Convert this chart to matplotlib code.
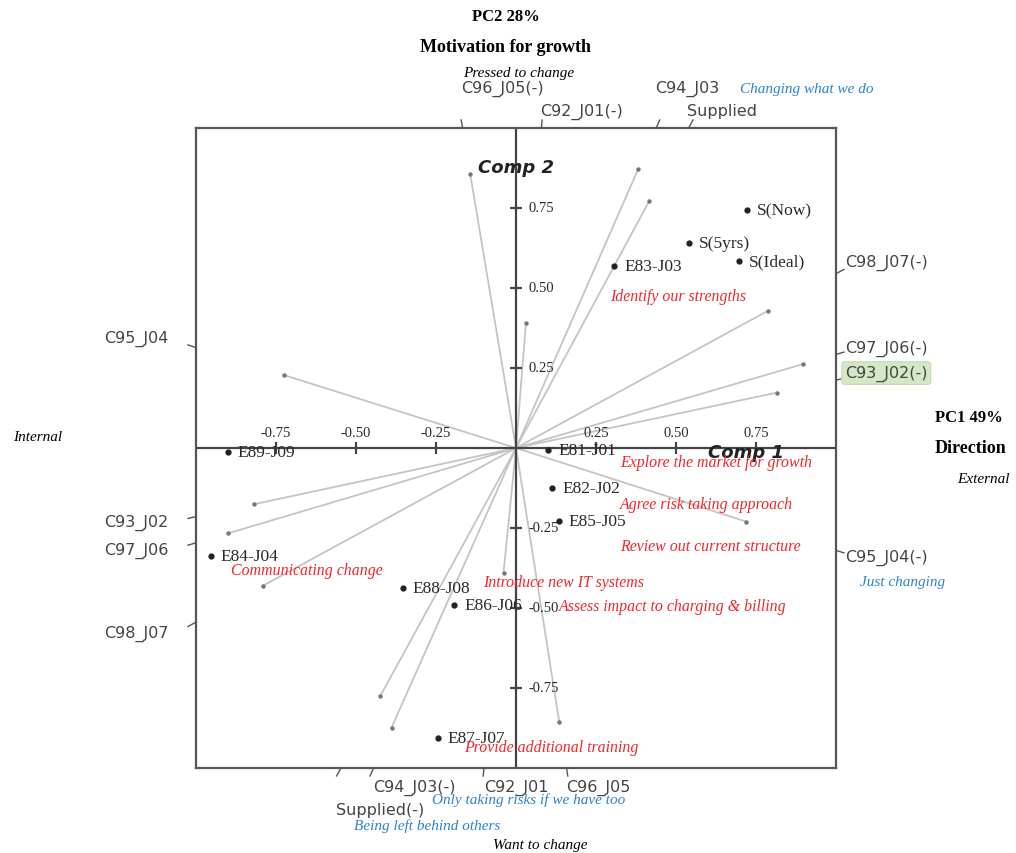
import matplotlib
matplotlib.use("Agg")
import matplotlib.pyplot as plt
import numpy as np

W, H = 1016, 854

# variable loadings: each variable is drawn twice (as is and negated)
var_names = ["C96_J05(-)", "C96_J05",
             "C92_J01(-)", "C92_J01",
             "C94_J03", "C94_J03(-)",
             "Supplied", "Supplied(-)",
             "C98_J07(-)", "C98_J07",
             "C97_J06(-)", "C97_J06",
             "C93_J02(-)", "C93_J02",
             "C95_J04(-)", "C95_J04"]
var_x = [-0.143, 0.135, 0.031, -0.039, 0.382, -0.389, 0.417, -0.424,
         0.786, -0.792, 0.896, -0.901, 0.815, -0.820, 0.719, -0.726]
var_y = [0.856, -0.855, 0.390, -0.390, 0.872, -0.874, 0.773, -0.775,
         0.428, -0.431, 0.262, -0.267, 0.173, -0.176, -0.230, 0.228]

# scores
pt_names = ["S(Now)", "S(5yrs)", "S(Ideal)", "E83-J03", "E81-J01", "E82-J02",
            "E85-J05", "E89-J09", "E84-J04", "E88-J08", "E86-J06", "E87-J07"]
pt_x = [0.721, 0.542, 0.698, 0.307, 0.101, 0.114, 0.133, -0.901, -0.953,
        -0.354, -0.193, -0.245]
pt_y = [0.744, 0.640, 0.584, 0.569, -0.006, -0.126, -0.228, -0.011, -0.336,
        -0.436, -0.490, -0.905]

ticks = [-0.75, -0.50, -0.25, 0.25, 0.50, 0.75]
tick_labels = ["-0.75", "-0.50", "-0.25", "0.25", "0.50", "0.75"]

red_notes = ["Identify our strengths", "Explore the market for growth",
             "Agree risk taking approach", "Review out current structure",
             "Communicating change", "Introduce new IT systems",
             "Assess impact to charging & billing", "Provide additional training"]
blue_notes = ["Changing what we do", "Just changing",
              "Only taking risks if we have too", "Being left behind others"]

RED = "#f2262b"
BLUE = "#2b82d0"
SERIF = "Liberation Serif"

fig = plt.figure(figsize=(W / 100, H / 100), dpi=100)
ax = fig.add_axes([196 / W, 85 / H, 640 / W, 640 / H])
ax.set_xlim(-1, 1)
ax.set_ylim(-1, 1)
ax.set_xticks([])
ax.set_yticks([])
for s in ax.spines.values():
    s.set_color("#555555")
    s.set_linewidth(1.6)

ax.axhline(0, color="#444444", lw=1.6, zorder=2)
ax.axvline(0, color="#444444", lw=1.6, zorder=2)

# axis ticks
ax.plot(ticks, np.zeros(len(ticks)), ls="none", marker="|", ms=9, mew=1.6, color="#444444")
ax.plot(np.zeros(len(ticks)), ticks, ls="none", marker="_", ms=9, mew=1.6, color="#444444")
for t, lab in zip(ticks, tick_labels):
    ax.annotate(lab, (t, 0), xytext=(0, 11), textcoords="offset points",
                ha="center", va="center", fontsize=10.5, family=SERIF, color="#2a2a2a")
    ax.annotate(lab, (0, t), xytext=(9, 0), textcoords="offset points",
                ha="left", va="center", fontsize=10.5, family=SERIF, color="#2a2a2a")

ax.text(0, 0.878, "Comp 2", ha="center", va="center", fontsize=13,
        fontweight="bold", style="italic", color="#222222")
ax.text(0.72, -0.012, "Comp 1", ha="center", va="center", fontsize=13,
        fontweight="bold", style="italic", color="#222222")

# loading vectors and the points where their lines leave the frame
stagger = {"C92_J01(-)": 1, "Supplied": 1, "Supplied(-)": 1}
nudge = {"C95_J04": 10, "C93_J02": -5, "C97_J06": -7, "C98_J07": -11,
         "C98_J07(-)": 12, "C97_J06(-)": 7, "C93_J02(-)": 7, "C95_J04(-)": -7,
         "Supplied(-)": -5}
for name, vx, vy in zip(var_names, var_x, var_y):
    ax.plot([0, vx], [0, vy], color="#c4c4c4", lw=1.3, zorder=1)
    ax.plot(vx, vy, marker="o", ms=2.2, color="#777777", zorder=1)
    k = 1.0 / max(abs(vx), abs(vy))
    bx, by = vx * k, vy * k
    ax.plot([bx, bx * 1.025], [by, by * 1.025], color="#555555", lw=1.0, clip_on=False)
    n = nudge.get(name, 0) * 0.72
    if abs(by) >= 0.999 and by > 0:
        off, ha = (-1, 28.8 - 16.5 * stagger.get(name, 0)), "left"
    elif abs(by) >= 0.999:
        off, ha = (n, -13.7 - 16 * stagger.get(name, 0)), "left"
    elif bx < 0:
        off, ha = (-20, n), "right"
    else:
        off, ha = (6.5, n), "left"
    box = None
    if name == "C93_J02(-)":
        box = dict(boxstyle="round,pad=0.2", fc="#d4e7c7", ec="#c3dbb2", lw=0.8)
    ax.annotate(name, (bx, by), xytext=off, textcoords="offset points", ha=ha,
                va="center", fontsize=11.5, color="#444444", annotation_clip=False,
                bbox=box)

# score points
ax.plot(pt_x, pt_y, ls="none", marker="o", ms=3.5, color="#222222", zorder=3)
for name, x, y in zip(pt_names, pt_x, pt_y):
    ax.annotate(name, (x, y), xytext=(7, 0), textcoords="offset points",
                ha="left", va="center", fontsize=12.5, family=SERIF,
                color="#2a2a2a")


def ftext(x, y, s, **kw):
    fig.text(x / W, 1 - y / H, s, family=SERIF, va="center", **kw)


ftext(506, 17, "PC2 28%", ha="center", fontsize=12, fontweight="bold")
ftext(420, 48, "Motivation for growth", ha="left", fontsize=13, fontweight="bold")
ftext(463, 73, "Pressed to change", ha="left", fontsize=11, style="italic")
ftext(493, 846, "Want to change", ha="left", fontsize=11, style="italic")
ftext(13, 438, "Internal", ha="left", fontsize=11, style="italic")
ftext(935, 418, "PC1 49%", ha="left", fontsize=12, fontweight="bold")
ftext(935, 449, "Direction", ha="left", fontsize=13, fontweight="bold")
ftext(1010, 480, "External", ha="right", fontsize=11, style="italic")

red_pos = [(610, 297), (620, 463), (620, 505), (620, 547),
           (231, 571), (483, 583), (559, 607), (464, 748)]
for (x, y), s in zip(red_pos, red_notes):
    ftext(x, y, s, ha="left", fontsize=11.4, style="italic", color=RED)

blue_pos = [(740, 90), (860, 583), (432, 800), (354, 826)]
for (x, y), s in zip(blue_pos, blue_notes):
    ftext(x, y, s, ha="left", fontsize=11, style="italic", color=BLUE)

fig.savefig("out.png", dpi=100)
